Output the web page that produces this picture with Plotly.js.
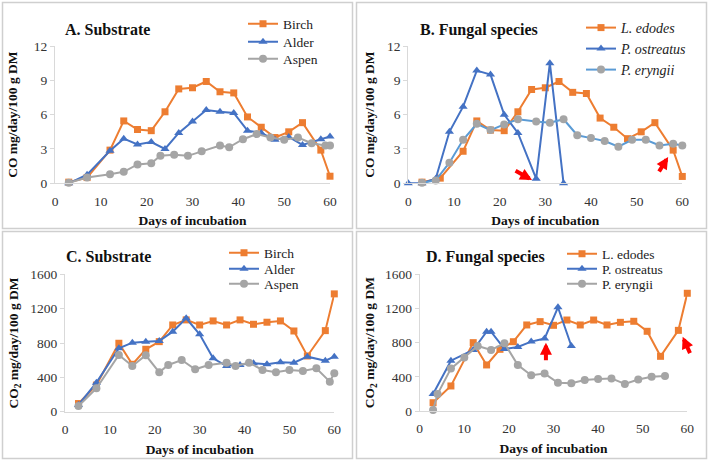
<!DOCTYPE html>
<html><head><meta charset="utf-8">
<script src="https://cdn.plot.ly/plotly-3.0.1.min.js"></script>
<style>html,body{margin:0;padding:0;background:#fff}#chart{width:709px;height:461px}</style>
</head><body><div id="chart"></div>
<script>
// ---------- Data ----------
// Panel A: CO by substrate
const birchA_x = [3,7,12,15,18,21,24,27,30,33,36,39,42,45,48,51,54,58,60];
const birchA_y = [0.1,0.5,2.9,5.45,4.7,4.6,6.25,8.25,8.35,8.9,8.0,7.9,5.8,4.9,4.0,4.5,5.3,2.9,0.62];
const alderA_x = [3,7,12,15,18,21,24,27,30,33,36,39,42,45,48,51,54,58,60];
const alderA_y = [0.0,0.75,2.85,3.9,3.4,3.6,3.0,4.4,5.4,6.4,6.25,6.15,4.6,4.4,3.8,4.05,3.35,3.85,4.1];
const aspenA_x = [3,7,12,15,18,21,23,26,29,32,36,38,41,44,47,50,53,56,59,60];
const aspenA_y = [0.05,0.5,0.8,1.0,1.65,1.75,2.4,2.5,2.4,2.8,3.3,3.15,3.85,4.3,4.0,3.8,4.0,3.5,3.3,3.3];
// Panel B: CO by fungal species
const ledB_x = [3,7,12,15,18,21,24,27,30,33,36,39,42,45,48,51,54,58,60];
const ledB_y = [0.1,0.45,2.8,5.45,4.65,4.6,6.25,8.2,8.35,8.9,7.95,7.85,5.7,4.9,3.9,4.5,5.3,2.9,0.6];
const postB_x = [0,3,6,9,12,15,18,21,24,28,31,34];
const postB_y = [0,0,0.4,4.5,6.7,9.85,9.5,6.0,4.4,0.4,10.5,0];
const peryB_x = [3,6,9,12,15,18,21,24,28,31,34,37,40,43,46,49,52,55,58,60];
const peryB_y = [0.05,0.25,1.8,3.8,5.2,4.65,5.15,5.6,5.4,5.3,5.6,4.2,3.95,3.7,3.2,3.8,3.8,3.3,3.45,3.3];
// Panel C: CO2 by substrate
const birchC_x = [3,7,12,15,18,21,24,27,30,33,36,39,42,45,48,51,54,58,60];
const birchC_y = [95,310,797,552,727,816,1010,1069,1010,1057,1010,1069,1018,1042,1057,940,649,944,1372];
const alderC_x = [3,7,12,15,18,21,24,27,30,33,36,39,42,45,48,51,54,58,60];
const alderC_y = [78,338,739,804,816,824,932,1088,902,622,532,544,564,552,575,571,641,594,641];
const aspenC_x = [3,7,12,15,18,21,23,26,29,32,36,38,41,44,47,50,53,56,59,60];
const aspenC_y = [66,272,660,532,657,459,544,602,494,544,571,532,571,486,459,486,474,506,350,447];
// Panel D: CO2 by fungal species
const ledD_x = [3,7,12,15,18,21,24,27,30,33,36,39,42,45,48,51,54,58,60];
const ledD_y = [97,293,800,539,722,811,1007,1046,1003,1065,1007,1065,1007,1038,1050,933,640,944,1378];
const postD_x = [3,7,12,15,16,19,22,25,28,31,34];
const postD_y = [199,589,714,928,928,726,750,812,848,1214,761];
const peryD_x = [3,4,7,10,13,16,19,22,25,28,31,34,37,40,43,46,49,52,55];
const peryD_y = [12,199,496,625,761,714,793,539,418,438,331,325,363,375,381,316,369,400,410];

const xTicks = [0,10,20,30,40,50,60];
const coTicks = [0,3,6,9,12];
const co2Ticks = [0,400,800,1200,1600];

// ---------- Styling ----------
const ORANGE = '#ED7D31', BLUE = '#4472C4', GREY = '#A5A5A5', LBLUE = '#5B9BD5';
const FONT = 'Liberation Serif, Times New Roman, serif';
const W = 709, H = 461;
const px = v => v / W, py = v => 1 - v / H;

function tr(x, y, name, color, symbol, size, xa, ya, leg, markerColor) {
  return {x, y, name, type: 'scatter', mode: 'lines+markers', xaxis: xa, yaxis: ya,
    legend: leg, cliponaxis: false,
    line: {color, width: 2},
    marker: {symbol, size, color: markerColor || color}};
}
const data = [
  tr(birchA_x, birchA_y, 'Birch', ORANGE, 'square', 7, 'x', 'y', 'legend'),
  tr(alderA_x, alderA_y, 'Alder', BLUE, 'triangle-up', 8, 'x', 'y', 'legend2'),
  tr(aspenA_x, aspenA_y, 'Aspen', GREY, 'circle', 8, 'x', 'y', 'legend3'),
  tr(ledB_x, ledB_y, '<i>L. edodes</i>', ORANGE, 'square', 7, 'x2', 'y2', 'legend4'),
  tr(postB_x, postB_y, '<i>P. ostreatus</i>', BLUE, 'triangle-up', 8, 'x2', 'y2', 'legend5'),
  tr(peryB_x, peryB_y, '<i>P. eryngii</i>', LBLUE, 'circle', 8, 'x2', 'y2', 'legend6', GREY),
  tr(birchC_x, birchC_y, 'Birch', ORANGE, 'square', 7, 'x3', 'y3', 'legend7'),
  tr(alderC_x, alderC_y, 'Alder', BLUE, 'triangle-up', 8, 'x3', 'y3', 'legend8'),
  tr(aspenC_x, aspenC_y, 'Aspen', GREY, 'circle', 8, 'x3', 'y3', 'legend9'),
  tr(ledD_x, ledD_y, 'L. edodes', ORANGE, 'square', 7, 'x4', 'y4', 'legend10'),
  tr(postD_x, postD_y, 'P. ostreatus', BLUE, 'triangle-up', 8, 'x4', 'y4', 'legend11'),
  tr(peryD_x, peryD_y, 'P. eryngii', GREY, 'circle', 8, 'x4', 'y4', 'legend12'),
];

function xax(domL, domR, anchor) {
  return {domain: [px(domL), px(domR)], anchor, range: [0, 60], tickvals: xTicks,
    showline: true, linecolor: '#d9d9d9', linewidth: 1, ticks: '', showgrid: false, zeroline: false,
    ticklabelstandoff: 5,
    tickfont: {family: FONT, size: 13.5, color: '#333'}, automargin: false,
    title: {text: '<b>Days of incubation</b>', font: {family: FONT, size: 13.5, color: '#111'}, standoff: 8}};
}
function yax(top, bot, anchor, range, ticks, title, standoff) {
  return {domain: [py(bot), py(top)], anchor, range, tickvals: ticks,
    showline: true, linecolor: '#d9d9d9', linewidth: 1, ticks: 'outside', ticklen: 4, tickcolor: '#d9d9d9',
    showgrid: false, zeroline: false, automargin: false,
    tickfont: {family: FONT, size: 13.5, color: '#333'},
    title: {text: title, font: {family: FONT, size: 13.5, color: '#111'}, standoff}};
}
const coTitle = '<b>CO mg/day/100 g DM</b>';
const co2Title = '<b>CO<sub>2</sub> mg/day/100 g DM</b>';

function leg(xText, yMid, size) {
  return {x: px(xText - 40), xanchor: 'left', y: py(yMid), yanchor: 'middle',
    bgcolor: 'rgba(0,0,0,0)', borderwidth: 0, itemwidth: 30,
    font: {family: FONT, size, color: '#222'}};
}

function box(x0, y0, x1, y1) {
  return {type: 'rect', xref: 'paper', yref: 'paper', x0: px(x0), x1: px(x1), y0: py(y1), y1: py(y0),
    line: {color: '#cfcfcf', width: 1.5}, fillcolor: 'rgba(0,0,0,0)'};
}
function ptitle(text, xl, yc) {
  return {text: '<b>' + text + '</b>', xref: 'paper', yref: 'paper', x: px(xl), y: py(yc),
    xanchor: 'left', yanchor: 'middle', showarrow: false, font: {family: FONT, size: 16, color: '#111'}};
}
function arrow(xa, ya, x, y, ax, ay) {
  return {xref: xa, yref: ya, x, y, ax, ay, text: '', showarrow: true, arrowcolor: '#FF0000',
    arrowwidth: 4, arrowhead: 2, arrowsize: 0.6, standoff: 0};
}

const layout = {
  width: W, height: H, margin: {l: 0, r: 0, t: 0, b: 0},
  paper_bgcolor: '#fff', plot_bgcolor: 'rgba(0,0,0,0)', showlegend: true,
  xaxis: xax(55, 330, 'y'),
  yaxis: yax(46, 183.3, 'x', [0, 12], coTicks, coTitle, 13),
  xaxis2: xax(408.3, 682.3, 'y2'),
  yaxis2: yax(46, 183.3, 'x2', [0, 12], coTicks, coTitle, 9),
  xaxis3: xax(65, 334.3, 'y3'),
  yaxis3: yax(274.3, 411.7, 'x3', [0, 1600], co2Ticks, co2Title, 8),
  xaxis4: xax(419.7, 687.3, 'y4'),
  yaxis4: yax(274.3, 411, 'x4', [0, 1600], co2Ticks, co2Title, 7),
  legend: leg(283, 24, 13.5), legend2: leg(283, 42, 13.5), legend3: leg(283, 59, 13.5),
  legend4: leg(621, 28, 14), legend5: leg(621, 49, 14), legend6: leg(621, 70, 14),
  legend7: leg(264, 253, 13.5), legend8: leg(264, 269, 13.5), legend9: leg(264, 284, 13.5),
  legend10: leg(602, 254, 13.5), legend11: leg(602, 269, 13.5), legend12: leg(602, 284, 13.5),
  shapes: [box(2.5, 2.5, 352.5, 228.5), box(356.5, 2.5, 706.5, 228.5),
           box(2.5, 231.5, 352.5, 458.5), box(356.5, 231.5, 706.5, 458.5)],
  annotations: [
    ptitle('A. Substrate', 63, 30), ptitle('B. Fungal species', 418, 30),
    ptitle('C. Substrate', 64, 256), ptitle('D. Fungal species', 424, 257),
    arrow('x2', 'y2', 27.1, 0.29, -18, -10),
    arrow('x2', 'y2', 56.9, 2.3, -10, 16),
    arrow('x4', 'y4', 28.3, 800, 0, 19),
    arrow('x4', 'y4', 58.96, 870, 8, 18)
  ]
};
Plotly.newPlot('chart', data, layout, {displayModeBar: false, staticPlot: true});
</script></body></html>
